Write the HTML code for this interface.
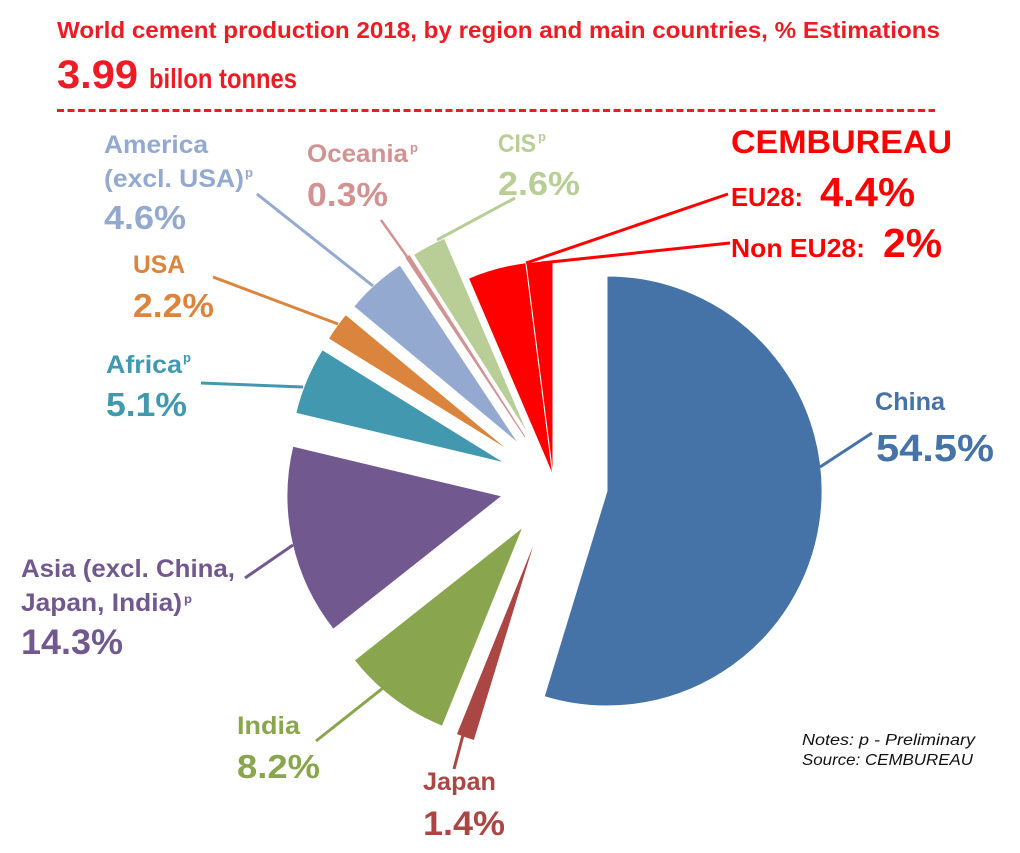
<!DOCTYPE html>
<html>
<head>
<meta charset="utf-8">
<style>
html,body{margin:0;padding:0;background:#fff;}
svg{display:block;}
text{font-family:"Liberation Sans","DejaVu Sans",sans-serif;font-weight:bold;}
</style>
</head>
<body>
<svg width="1020" height="853" viewBox="0 0 1020 853" xmlns="http://www.w3.org/2000/svg">
<rect width="1020" height="853" fill="#fff"/>

<!-- Header -->
<text x="57" y="38" font-size="23" fill="#ED1C24" textLength="883" lengthAdjust="spacingAndGlyphs">World cement production 2018, by region and main countries, % Estimations</text>
<text x="57" y="88" font-size="40" fill="#ED1C24" textLength="81" lengthAdjust="spacingAndGlyphs">3.99</text>
<text x="149" y="88" font-size="28" fill="#ED1C24" textLength="148" lengthAdjust="spacingAndGlyphs">billon tonnes</text>
<line x1="57" y1="110.5" x2="935" y2="110.5" stroke="#ED1C24" stroke-width="3" stroke-dasharray="7 3.5"/>

<!-- Pie slices -->
<g stroke="#fff" stroke-width="1" stroke-linejoin="round">
<path d="M607,491 L607,276 A215,215 0 1,1 544.2,696.6 Z" fill="#4572A7"/>
<path d="M537,535 L474.2,740.6 A215,215 0 0,1 456.3,734.3 Z" fill="#AA4643"/>
<path d="M523,527 L442.3,726.3 A215,215 0 0,1 354.3,660.3 Z" fill="#89A54E"/>
<path d="M502,496 L333.3,629.3 A215,215 0 0,1 292.8,446.2 Z" fill="#71588F"/>
<path d="M505,463 L295.8,413.2 A215,215 0 0,1 322.3,349.7 Z" fill="#4198AF"/>
<path d="M511,452 L328.3,338.7 A215,215 0 0,1 345.7,314.5 Z" fill="#DB843D"/>
<path d="M519,444 L353.7,306.5 A215,215 0 0,1 400,264.9 Z" fill="#93A9CF"/>
<path d="M529,436 L413.4,254.7 A215,215 0 0,1 444.5,238.3 Z" fill="#B9CD96"/>
<path d="M553,476 L468.5,278.3 A215,215 0 0,1 525.9,262.7 Z" fill="#FF0000"/>
<path d="M553,476 L525.9,262.7 A215,215 0 0,1 553,261 Z" fill="#FF0000"/>
</g>
<path d="M525,437 L406,257.9 A215,215 0 0,1 409.4,255.7 Z" fill="#D19392" stroke="#D19392" stroke-width="1"/>

<!-- Leader lines -->
<g stroke-width="3" fill="none" stroke-linecap="butt">
<line x1="257" y1="194" x2="373" y2="286" stroke="#93A9CF"/>
<line x1="381" y1="220" x2="408" y2="258" stroke="#D19392" stroke-width="2.5"/>
<line x1="515" y1="198" x2="437" y2="240" stroke="#B9CD96"/>
<line x1="213" y1="277" x2="338" y2="324" stroke="#DB843D"/>
<line x1="201" y1="383" x2="303" y2="387" stroke="#4198AF"/>
<line x1="245" y1="578" x2="293" y2="545" stroke="#71588F"/>
<line x1="316" y1="741" x2="383" y2="688" stroke="#89A54E"/>
<line x1="454" y1="769" x2="463" y2="735" stroke="#AA4643"/>
<line x1="872" y1="433" x2="820" y2="467" stroke="#4572A7"/>
<line x1="728" y1="194" x2="526" y2="263" stroke="#FF0000"/>
<line x1="730" y1="243" x2="541" y2="263" stroke="#FF0000"/>
</g>

<!-- CEMBUREAU block -->
<text x="731" y="153" font-size="32" fill="#FF0000" textLength="221" lengthAdjust="spacingAndGlyphs">CEMBUREAU</text>
<text x="731" y="206" font-size="26" fill="#FF0000" textLength="72" lengthAdjust="spacingAndGlyphs">EU28:</text>
<text x="820" y="206" font-size="41" fill="#FF0000" textLength="95" lengthAdjust="spacingAndGlyphs">4.4%</text>
<text x="731" y="257" font-size="26" fill="#FF0000" textLength="134" lengthAdjust="spacingAndGlyphs">Non EU28:</text>
<text x="883" y="257" font-size="41" fill="#FF0000" textLength="59" lengthAdjust="spacingAndGlyphs">2%</text>

<!-- America -->
<g fill="#93A9CF">
<text x="104" y="153" font-size="25" textLength="104" lengthAdjust="spacingAndGlyphs">America</text>
<text x="104" y="187" font-size="25" textLength="140" lengthAdjust="spacingAndGlyphs">(excl. USA)</text>
<text x="245" y="177" font-size="13" textLength="8" lengthAdjust="spacingAndGlyphs">p</text>
<text x="104" y="229" font-size="33" textLength="82" lengthAdjust="spacingAndGlyphs">4.6%</text>
</g>

<!-- Oceania -->
<g fill="#D19392">
<text x="307" y="162" font-size="25" textLength="101" lengthAdjust="spacingAndGlyphs">Oceania</text>
<text x="410" y="152" font-size="13" textLength="8" lengthAdjust="spacingAndGlyphs">p</text>
<text x="307" y="206" font-size="33" textLength="81" lengthAdjust="spacingAndGlyphs">0.3%</text>
</g>

<!-- CIS -->
<g fill="#B9CD96">
<text x="498" y="152" font-size="25" textLength="38" lengthAdjust="spacingAndGlyphs">CIS</text>
<text x="538" y="141" font-size="13" textLength="8" lengthAdjust="spacingAndGlyphs">p</text>
<text x="498" y="195" font-size="33" textLength="82" lengthAdjust="spacingAndGlyphs">2.6%</text>
</g>

<!-- USA -->
<g fill="#DB843D">
<text x="133" y="273" font-size="25" textLength="52" lengthAdjust="spacingAndGlyphs">USA</text>
<text x="133" y="317" font-size="33" textLength="81" lengthAdjust="spacingAndGlyphs">2.2%</text>
</g>

<!-- Africa -->
<g fill="#4198AF">
<text x="106" y="373" font-size="25" textLength="76" lengthAdjust="spacingAndGlyphs">Africa</text>
<text x="183" y="362" font-size="13" textLength="8" lengthAdjust="spacingAndGlyphs">p</text>
<text x="106" y="416" font-size="33" textLength="81" lengthAdjust="spacingAndGlyphs">5.1%</text>
</g>

<!-- China -->
<g fill="#4572A7">
<text x="875" y="410" font-size="25" textLength="70" lengthAdjust="spacingAndGlyphs">China</text>
<text x="876" y="461" font-size="38" textLength="118" lengthAdjust="spacingAndGlyphs">54.5%</text>
</g>

<!-- Asia -->
<g fill="#71588F">
<text x="21" y="577" font-size="25" textLength="214" lengthAdjust="spacingAndGlyphs">Asia (excl. China,</text>
<text x="21" y="611" font-size="25" textLength="161" lengthAdjust="spacingAndGlyphs">Japan, India)</text>
<text x="184" y="603" font-size="12" textLength="8" lengthAdjust="spacingAndGlyphs">p</text>
<text x="21" y="654" font-size="35" textLength="102" lengthAdjust="spacingAndGlyphs">14.3%</text>
</g>

<!-- India -->
<g fill="#89A54E">
<text x="237" y="734" font-size="25" textLength="63" lengthAdjust="spacingAndGlyphs">India</text>
<text x="237" y="778" font-size="33" textLength="83" lengthAdjust="spacingAndGlyphs">8.2%</text>
</g>

<!-- Japan -->
<g fill="#AA4643">
<text x="423" y="790" font-size="25" textLength="73" lengthAdjust="spacingAndGlyphs">Japan</text>
<text x="423" y="835" font-size="34" textLength="82" lengthAdjust="spacingAndGlyphs">1.4%</text>
</g>

<!-- Notes -->
<text x="802" y="745" font-size="16" font-weight="normal" font-style="italic" fill="#111" style="font-weight:normal" textLength="173" lengthAdjust="spacingAndGlyphs">Notes: p - Preliminary</text>
<text x="802" y="765" font-size="16" font-weight="normal" font-style="italic" fill="#111" style="font-weight:normal" textLength="171" lengthAdjust="spacingAndGlyphs">Source: CEMBUREAU</text>
</svg>
</body>
</html>
